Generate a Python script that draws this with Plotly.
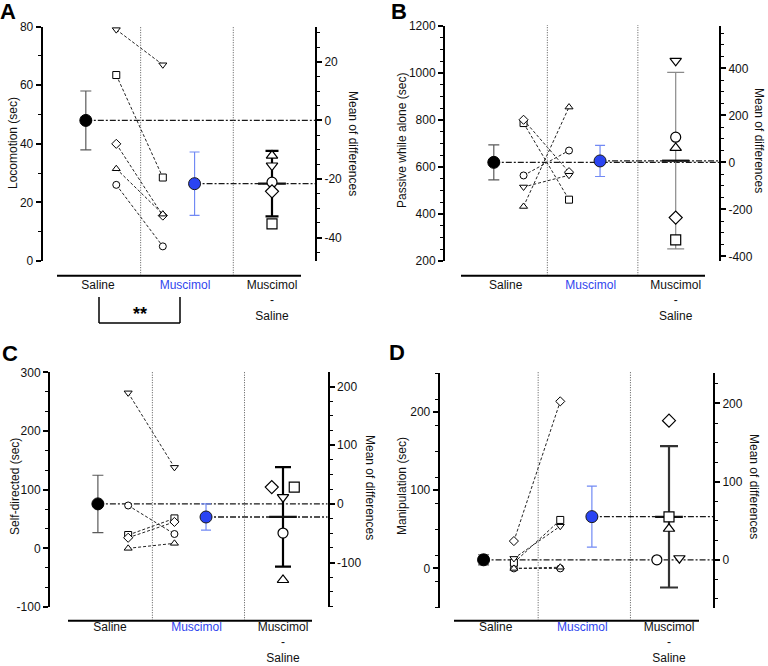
import numpy as np
import plotly.graph_objects as go

W, H = 768, 666

categories = ["Saline", "Muscimol", "Muscimol<br>-<br>Saline"]
subject_symbols = ["circle", "square", "diamond", "triangle-up", "triangle-down"]

# A: Locomotion (sec)
loco_saline = [26, 63.5, 40, 31.5, 79]
loco_muscimol = [5, 28.5, 15.5, 16, 67]
loco_diff = [-21.1, -35.3, -24.2, -12.0, -15.4]

# B: Passive while alone (sec)
passive_saline = [564, 787, 801, 432, 515]
passive_muscimol = [670, 461, 578, 855, 565]
passive_diff = [107, -330, -235, 61.5, 432]

# C: Self-directed (sec)
self_saline = [73, 22.7, 18, 0, 265]
self_muscimol = [24.4, 51, 45, 8.5, 138]
self_diff = [-49.7, 28.6, 28.6, -129.7, 11.4]

# D: Manipulation (sec)
manip_saline = [0, 7.3, 35, 0, 12.8]
manip_muscimol = [0, 62, 213.7, 1.5, 54]
manip_diff = [0, 55, 178, 39.7, 2]

# tick labels
loco_left_ticks = [0, 20, 40, 60, 80]
loco_right_ticks = [-40, -20, 0, 20]
passive_left_ticks = [200, 400, 600, 800, 1000, 1200]
passive_right_ticks = [-400, -200, 0, 200, 400]
self_left_ticks = [-100, 0, 100, 200, 300]
self_right_ticks = [-100, 0, 100, 200]
manip_left_ticks = [0, 100, 200]
manip_right_ticks = [0, 100, 200]

T_975_DF4 = 2.776  # t critical value, 95% CI, n=5

FONT = "Arial, Liberation Sans, Helvetica, sans-serif"
BLUE_TEXT = "#2f45ee"
BLUE_MARK = "#2a44f2"
BLUE_ERR = "#7189f4"


def fx(p):
    return p / W


def fy(p):
    return 1 - p / H


panels = [
    dict(letter="A", ytitle="Locomotion (sec)", sal=loco_saline, mus=loco_muscimol, diff=loco_diff,
         jitter=[0, 0, 0, 0, 0], yrange=[0, 80], lticks=loco_left_ticks, lminor=10,
         rticks=loco_right_ticks, rminor=5,
         xl=42.7, xr=315, x0=98, x2=272, ytop=26.7, ybot=261, xline=(57, 301, 275.7), label_up=0,
         ltitle=(13, 143), rtitle=(353, 143), letter_pos=(8, 11),
         err_color="black", err_w=2.2, cap=6.5),
    dict(letter="B", ytitle="Passive while alone (sec)", sal=passive_saline, mus=passive_muscimol,
         diff=passive_diff, jitter=[0, 0, 0, 0, 0], yrange=[200, 1200], lticks=passive_left_ticks,
         lminor=50, rticks=passive_right_ticks, rminor=50,
         xl=445, xr=719, x0=505.7, x2=675.7, ytop=26, ybot=261, xline=(461, 705, 275.7), label_up=0,
         ltitle=(402, 141), rtitle=(759, 140), letter_pos=(399, 11),
         err_color="#8a8a8a", err_w=1.2, cap=8.5),
    dict(letter="C", ytitle="Self-directed (sec)", sal=self_saline, mus=self_muscimol, diff=self_diff,
         jitter=[0, 0.13, -0.13, 0, 0], yrange=[-100, 300], lticks=self_left_ticks, lminor=100 / 3,
         rticks=self_right_ticks, rminor=25,
         xl=50, xr=327.7, x0=110, x2=283, ytop=372.3, ybot=607, xline=(68, 312, 620.7), label_up=3,
         ltitle=(15, 487), rtitle=(370, 487), letter_pos=(10, 353),
         err_color="black", err_w=2.2, cap=8),
    dict(letter="D", ytitle="Manipulation (sec)", sal=manip_saline, mus=manip_muscimol, diff=manip_diff,
         jitter=[-0.14, 0, 0, 0, 0.12], yrange=[-50, 250], lticks=manip_left_ticks, lminor=100 / 3,
         rticks=manip_right_ticks, rminor=25,
         xl=439.7, xr=713, x0=495.7, x2=669, ytop=373, ybot=607.5, xline=(454, 699, 620.7), label_up=3,
         ltitle=(402, 486), rtitle=(754, 486), letter_pos=(397, 352),
         err_color="#333333", err_w=2.2, cap=9),
]

# relative x positions (category units)
POS_SAL_MEAN = -0.14
POS_SAL_IND = 0.21
POS_MUS_IND = 0.745
POS_MUS_MEAN = 1.11
POS_DIFF = 2.0
DIVIDERS = [0.49, 1.555]

fig = go.Figure()
shapes = []
annotations = []
layout_axes = {}

for i, p in enumerate(panels):
    xname = "x" if i == 0 else f"x{i + 1}"
    yl_idx, yr_idx = 2 * i + 1, 2 * i + 2
    ylname = "y" if yl_idx == 1 else f"y{yl_idx}"
    yrname = f"y{yr_idx}"
    xkey = "xaxis" if i == 0 else f"xaxis{i + 1}"
    ylkey = "yaxis" if yl_idx == 1 else f"yaxis{yl_idx}"
    yrkey = f"yaxis{yr_idx}"

    sal = np.array(p["sal"], dtype=float)
    mus = np.array(p["mus"], dtype=float)
    dif = np.array(p["diff"], dtype=float)
    n = len(sal)
    sal_mean, mus_mean = sal.mean(), mus.mean()
    sal_sem = sal.std(ddof=1) / np.sqrt(n)
    mus_sem = mus.std(ddof=1) / np.sqrt(n)
    dif_mean = dif.mean()
    dif_ci = T_975_DF4 * dif.std(ddof=1) / np.sqrt(n)

    u = (p["x2"] - p["x0"]) / 2.0
    xrange = [(p["xl"] - p["x0"]) / u, (p["xr"] - p["x0"]) / u]
    rrange = [p["yrange"][0] - sal_mean, p["yrange"][1] - sal_mean]

    # reference dash-dot lines (to right axis)
    fig.add_trace(go.Scatter(x=[POS_SAL_MEAN, xrange[1]], y=[sal_mean, sal_mean], mode="lines",
                             line=dict(color="#1a1a1a", width=1.3, dash="6px,2px,2px,2px"),
                             xaxis=xname, yaxis=ylname, showlegend=False, hoverinfo="skip"))
    fig.add_trace(go.Scatter(x=[POS_MUS_MEAN, xrange[1]], y=[mus_mean, mus_mean], mode="lines",
                             line=dict(color="#1a1a1a", width=1.3, dash="6px,2px,2px,2px"),
                             xaxis=xname, yaxis=ylname, showlegend=False, hoverinfo="skip"))

    # paired subjects
    for s in range(n):
        fig.add_trace(go.Scatter(
            x=[POS_SAL_IND, POS_MUS_IND], y=[sal[s], mus[s]], mode="lines+markers",
            line=dict(color="#222222", width=1, dash="3px,2px"),
            marker=dict(symbol=subject_symbols[s], size=7, color="white",
                        line=dict(color="black", width=1)),
            xaxis=xname, yaxis=ylname, showlegend=False, hoverinfo="skip"))

    # group means +/- SEM
    fig.add_trace(go.Scatter(
        x=[POS_SAL_MEAN], y=[sal_mean], mode="markers",
        marker=dict(size=12, color="black", line=dict(color="black", width=1)),
        error_y=dict(type="data", array=[sal_sem], color="#5a5a5a", thickness=1.2, width=5.5),
        xaxis=xname, yaxis=ylname, showlegend=False, hoverinfo="skip"))
    fig.add_trace(go.Scatter(
        x=[POS_MUS_MEAN], y=[mus_mean], mode="markers",
        marker=dict(size=12, color=BLUE_MARK, line=dict(color="#1a1a1a", width=1)),
        error_y=dict(type="data", array=[mus_sem], color=BLUE_ERR, thickness=1.2, width=5),
        xaxis=xname, yaxis=ylname, showlegend=False, hoverinfo="skip"))

    # mean of differences with 95% CI (right axis)
    fig.add_trace(go.Scatter(
        x=[POS_DIFF], y=[dif_mean], mode="markers",
        marker=dict(size=1, color="rgba(0,0,0,0)"),
        error_y=dict(type="data", array=[dif_ci], color=p["err_color"], thickness=p["err_w"],
                     width=p["cap"]),
        xaxis=xname, yaxis=yrname, showlegend=False, hoverinfo="skip"))
    fig.add_trace(go.Scatter(
        x=[POS_DIFF - 0.16, POS_DIFF + 0.16], y=[dif_mean, dif_mean], mode="lines",
        line=dict(color="#111111", width=2.2),
        xaxis=xname, yaxis=yrname, showlegend=False, hoverinfo="skip"))
    for s in range(n):
        fig.add_trace(go.Scatter(
            x=[POS_DIFF + p["jitter"][s]], y=[dif[s]], mode="markers",
            marker=dict(symbol=subject_symbols[s], size=10, color="white",
                        line=dict(color="black", width=1.2)),
            xaxis=xname, yaxis=yrname, showlegend=False, hoverinfo="skip"))

    # dotted dividers
    for d in DIVIDERS:
        shapes.append(dict(type="line", xref=xname, yref="paper", x0=d, x1=d,
                           y0=fy(p["xline"][2]), y1=fy(p["ytop"] - 1),
                           line=dict(color="#555555", width=1, dash="1px,1.5px")))
    # detached x axis line
    xa, xb, yline = p["xline"]
    shapes.append(dict(type="line", xref="paper", yref="paper", x0=fx(xa), x1=fx(xb),
                       y0=fy(yline), y1=fy(yline), line=dict(color="black", width=2)))

    dom_y = [fy(p["ybot"]), fy(p["ytop"])]
    layout_axes[xkey] = dict(
        domain=[fx(p["xl"]), fx(p["xr"])], range=xrange, anchor="free",
        position=fy(yline - p["label_up"]),
        tickmode="array", tickvals=[0, 1, 2],
        ticktext=[categories[0], f"<span style='color:{BLUE_TEXT}'>{categories[1]}</span>", categories[2]],
        ticks="", showline=False, showgrid=False, zeroline=False, automargin=False,
        tickfont=dict(family=FONT, size=12, color="#111111"), fixedrange=True)
    tick_common = dict(showline=True, linecolor="black", linewidth=2, ticks="outside", ticklen=5,
                       tickwidth=1.5, tickcolor="black", showgrid=False, zeroline=False,
                       automargin=False, tickfont=dict(family=FONT, size=12, color="#111111"))
    layout_axes[ylkey] = dict(
        domain=dom_y, range=p["yrange"], anchor=xname, side="left",
        tickmode="array", tickvals=p["lticks"], ticktext=[str(v) for v in p["lticks"]],
        minor=dict(tickmode="linear", tick0=p["yrange"][0], dtick=p["lminor"], ticklen=3,
                   tickwidth=1.2, tickcolor="black", ticks="outside", showgrid=False),
        **tick_common)
    layout_axes[yrkey] = dict(
        range=rrange, anchor=xname, side="right", overlaying=ylname,
        tickmode="array", tickvals=p["rticks"], ticktext=[str(v) for v in p["rticks"]],
        minor=dict(tickmode="linear", tick0=0, dtick=p["rminor"], ticklen=3,
                   tickwidth=1.2, tickcolor="black", ticks="outside", showgrid=False),
        **tick_common)

    # titles and panel letter
    annotations.append(dict(text=p["ytitle"], x=fx(p["ltitle"][0]), y=fy(p["ltitle"][1]),
                            xref="paper", yref="paper", showarrow=False, textangle=-90,
                            xanchor="center", yanchor="middle",
                            font=dict(family=FONT, size=12, color="#111111")))
    annotations.append(dict(text="Mean of differences", x=fx(p["rtitle"][0]), y=fy(p["rtitle"][1]),
                            xref="paper", yref="paper", showarrow=False, textangle=90,
                            xanchor="center", yanchor="middle",
                            font=dict(family=FONT, size=12, color="#111111")))
    annotations.append(dict(text=f"<b>{p['letter']}</b>", x=fx(p["letter_pos"][0]),
                            y=fy(p["letter_pos"][1]), xref="paper", yref="paper",
                            showarrow=False, xanchor="center", yanchor="middle",
                            font=dict(family=FONT, size=22, color="black")))

# significance bracket in panel A
bx0, bx1, by_top, by_bot = 99, 180, 297, 323
for (a, b, c, d) in [(bx0, by_top, bx0, by_bot), (bx0, by_bot, bx1, by_bot), (bx1, by_bot, bx1, by_top)]:
    shapes.append(dict(type="line", xref="paper", yref="paper", x0=fx(a), y0=fy(b), x1=fx(c), y1=fy(d),
                       line=dict(color="black", width=1.5)))
annotations.append(dict(text="<b>**</b>", x=fx(139.5), y=fy(314), xref="paper", yref="paper",
                        showarrow=False, xanchor="center", yanchor="middle",
                        font=dict(family=FONT, size=18, color="black")))

fig.update_layout(
    width=W, height=H, margin=dict(l=0, r=0, t=0, b=0, pad=0, autoexpand=False),
    paper_bgcolor="white", plot_bgcolor="white", showlegend=False,
    shapes=shapes, annotations=annotations, font=dict(family=FONT),
    **layout_axes)

fig.write_html("out.html", config={"displayModeBar": False},
               post_script="document.body.style.margin='0px';document.body.style.overflow='hidden';")
